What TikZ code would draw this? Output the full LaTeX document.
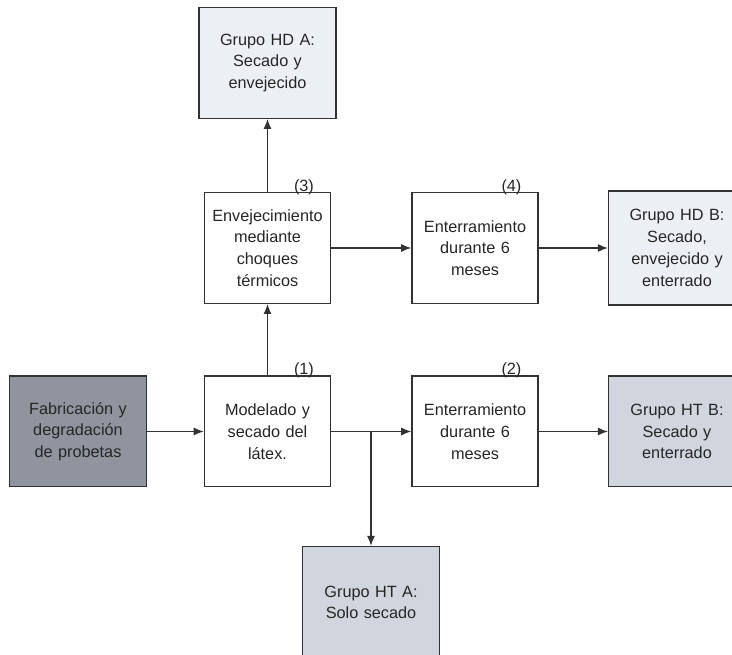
\documentclass[tikz,border=0pt]{standalone}
\usepackage{fontspec}
\setmainfont{Liberation Sans}
\usetikzlibrary{arrows.meta}
\definecolor{oscuro}{RGB}{143,148,158}
\definecolor{grisht}{RGB}{209,213,222}
\definecolor{grishd}{RGB}{236,240,244}
\definecolor{borde}{RGB}{50,50,50}
\tikzset{
  caja/.style={draw=borde,line width=1pt,align=center,minimum height=83pt,
    text=black!85,font=\fontsize{12.2}{16.3}\selectfont},
  paso/.style={caja,fill=white,minimum width=92.5pt,text width=88pt},
  grupo/.style={caja,minimum width=102pt,text width=96pt},
  flecha/.style={-{Latex[length=7.5pt,width=6pt]},line width=0.9pt,draw=borde},
  numero/.style={anchor=base,inner sep=0pt,text=black!85,font=\fontsize{12.2}{14}\selectfont}
}
\begin{document}
\begin{tikzpicture}[x=0.75pt,y=-0.75pt]
\useasboundingbox (0,0) rectangle (732,655);
\node[grupo,fill=oscuro] (fab) at (78,431.5) {Fabricación y\\degradación\\de probetas};
\node[paso] (mod) at (267.5,431.5) {Modelado y\\secado del\\látex.};
\node[paso] (ent2) at (475,431.5) {Enterramiento\\durante 6\\meses};
\node[grupo,fill=grisht] (htb) at (677,431.5) {Grupo HT B:\\Secado y\\enterrado};
\node[grupo,fill=grisht,minimum height=84pt] (hta) at (371,602.5) {Grupo HT A:\\Solo secado};
\node[paso] (env) at (267.5,248) {Envejecimiento\\mediante\\choques\\térmicos};
\node[paso] (ent4) at (475,248) {Enterramiento\\durante 6\\meses};
\node[grupo,fill=grishd,minimum height=85.5pt] (hdb) at (677,248) {Grupo HD B:\\Secado,\\envejecido y\\enterrado};
\node[grupo,fill=grishd] (hda) at (267.5,63) {Grupo HD A:\\Secado y\\envejecido};
\node[numero] (n1) at ([xshift=-20.5pt,yshift=0.5pt]mod.north east) {(1)};
\node[numero] (n2) at ([xshift=-20.5pt,yshift=0.5pt]ent2.north east) {(2)};
\node[numero] (n3) at ([xshift=-20.5pt,yshift=0.5pt]env.north east) {(3)};
\node[numero] (n4) at ([xshift=-20.5pt,yshift=0.5pt]ent4.north east) {(4)};
\coordinate (rama) at (371,431.5);
\draw[flecha] (fab) -- (mod);
\draw[flecha] (mod) -- (ent2);
\draw[flecha] (rama) -- (hta);
\draw[flecha] (ent2) -- (htb);
\draw[flecha] (mod) -- (env);
\draw[flecha] (env) -- (hda);
\draw[flecha] (env) -- (ent4);
\draw[flecha] (ent4) -- (hdb);
\end{tikzpicture}
\end{document}
